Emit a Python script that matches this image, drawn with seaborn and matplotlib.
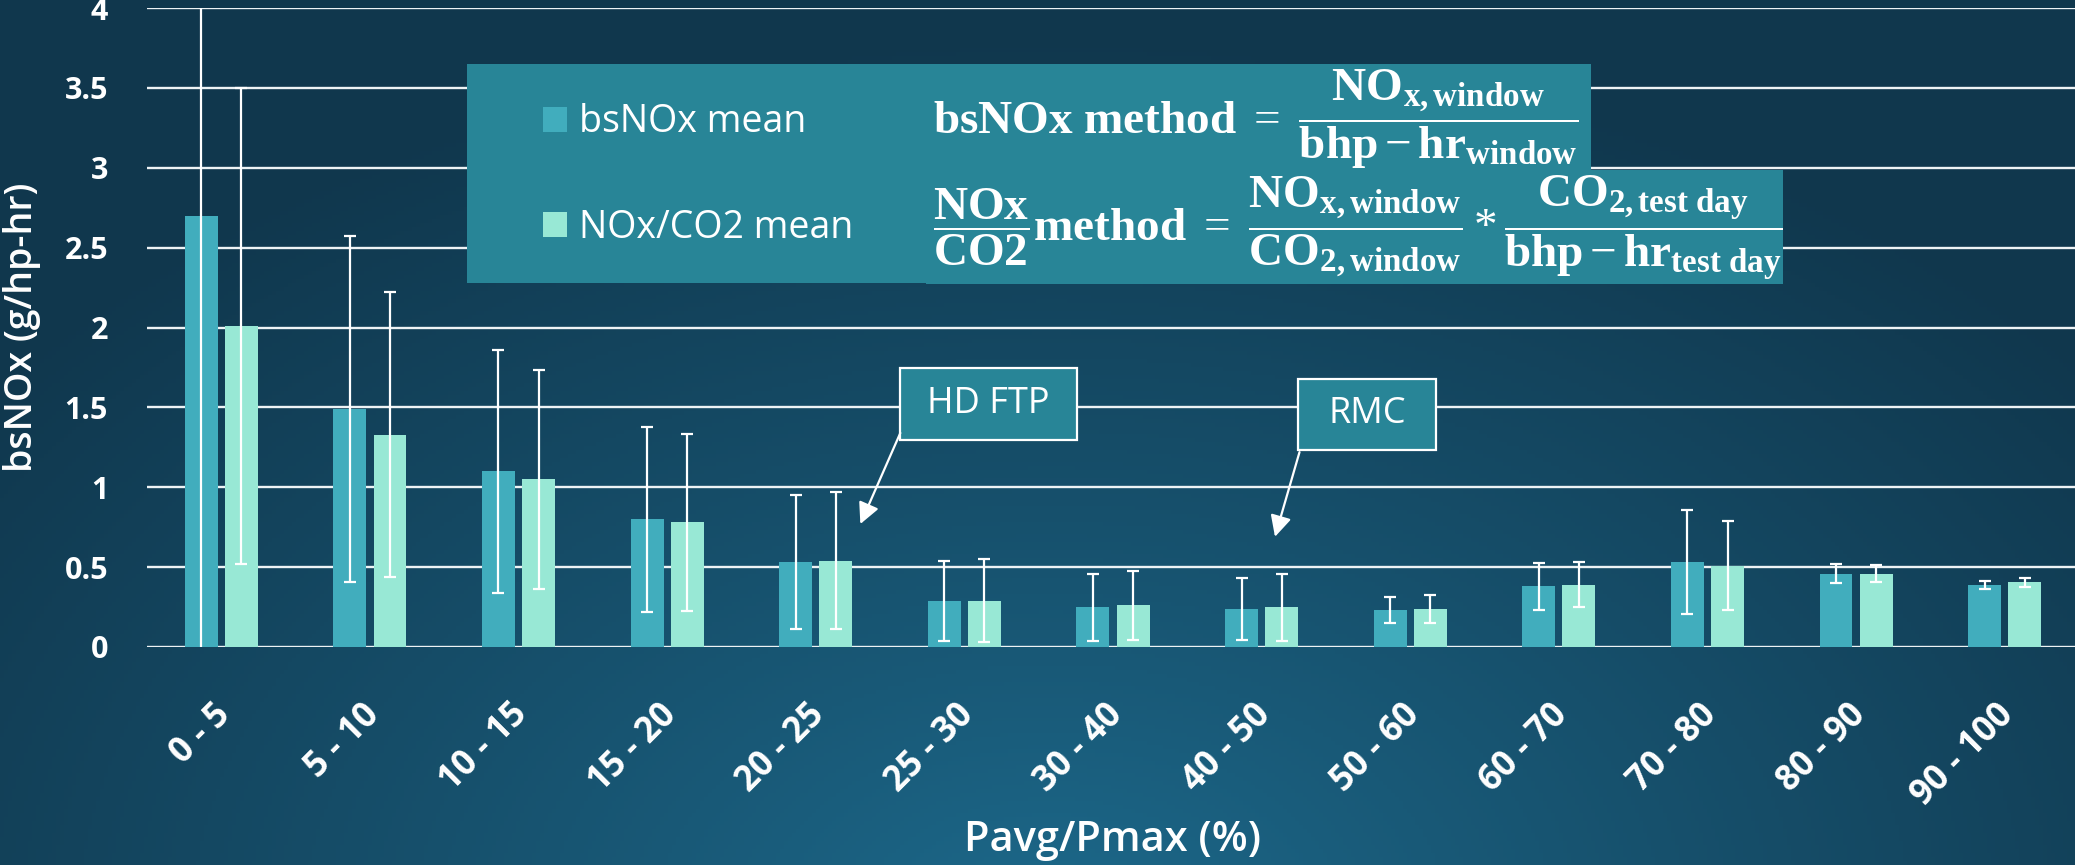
import numpy as np
import pandas as pd
import matplotlib
matplotlib.use('Agg')
import matplotlib.pyplot as plt
import matplotlib.transforms as mtransforms
import seaborn as sns
from matplotlib.patches import Rectangle

# Data
categories = ['0 - 5', '5 - 10', '10 - 15', '15 - 20', '20 - 25', '25 - 30', '30 - 40',
              '40 - 50', '50 - 60', '60 - 70', '70 - 80', '80 - 90', '90 - 100']
series = ['bsNOx mean', 'NOx/CO2 mean']
bsnox_mean = [2.70, 1.49, 1.10, 0.80, 0.53, 0.29, 0.25, 0.24, 0.23, 0.38, 0.53, 0.46, 0.39]
bsnox_err = [2.90, 1.08, 0.76, 0.58, 0.42, 0.25, 0.21, 0.195, 0.08, 0.146, 0.325, 0.06, 0.025]
ratio_mean = [2.01, 1.33, 1.05, 0.78, 0.54, 0.29, 0.26, 0.25, 0.24, 0.39, 0.51, 0.46, 0.405]
ratio_err = [1.49, 0.89, 0.685, 0.555, 0.43, 0.26, 0.215, 0.21, 0.088, 0.142, 0.276, 0.055, 0.029]
yticks = [0, 0.5, 1, 1.5, 2, 2.5, 3, 3.5, 4]

BAR_COLORS = ['#41adbd', '#98e8d5']
BOX_COLOR = '#288597'
W, H = 2075, 865

sns.set_style('dark')
plt.rcParams['font.family'] = ['Open Sans', 'DejaVu Sans']
plt.rcParams['mathtext.fontset'] = 'custom'
plt.rcParams['mathtext.rm'] = 'Liberation Serif'
plt.rcParams['mathtext.bf'] = 'Liberation Serif:bold'
plt.rcParams['mathtext.it'] = 'Liberation Serif:italic'

fig = plt.figure(figsize=(W / 100, H / 100), dpi=100)

# background gradient
bg = fig.add_axes([0, 0, 1, 1], zorder=-10)
yy, xx = np.mgrid[0:H:4, 0:W:4]
d = np.clip(np.hypot(xx - 1050, (yy - 930) * 1.5) / 1350, 0, 1) ** 0.9
light = np.array([0x1d, 0x6a, 0x8c]) / 255
dark = np.array([0x10, 0x37, 0x4d]) / 255
img = light[None, None, :] * (1 - d[..., None]) + dark[None, None, :] * d[..., None]
bg.imshow(img, aspect='auto', extent=[0, 1, 0, 1], origin='upper')
bg.axis('off')

ax = fig.add_axes([147 / W, 1 - 647 / H, 1932 / W, 639 / H])
ax.set_facecolor('none')

df = pd.DataFrame({
    'range': categories * 2,
    'value': bsnox_mean + ratio_mean,
    'series': [series[0]] * len(categories) + [series[1]] * len(categories),
})
sns.barplot(data=df, x='range', y='value', hue='series', palette=BAR_COLORS,
            width=0.54, gap=0.18, errorbar=None, saturation=1, linewidth=0,
            ax=ax, zorder=2)

for cont, errs in zip(ax.containers, [bsnox_err, ratio_err]):
    xs = [b.get_x() + b.get_width() / 2 for b in cont]
    ys = [b.get_height() for b in cont]
    ax.errorbar(xs, ys, yerr=errs, fmt='none', ecolor='white', elinewidth=1.6,
                capsize=4, capthick=1.6, zorder=3)

ax.set_xlim(-0.5, 12.5)
ax.set_ylim(0, 4)
ax.set_yticks(yticks)
ax.set_yticklabels([f'{v:g}' for v in yticks], fontsize=22, fontweight='bold', color='white')
ax.yaxis.grid(True, color='#eef3f5', lw=1.7)
ax.xaxis.grid(False)
ax.set_axisbelow(True)
for s in ax.spines.values():
    s.set_visible(False)
ax.tick_params(axis='both', length=0)
ax.tick_params(axis='y', pad=28)
ax.tick_params(axis='x', pad=45)
ax.set_xticks(range(len(categories)))
ax.set_xticklabels(categories, rotation=45, ha='right', va='center', rotation_mode='anchor',
                   fontsize=25, fontweight='bold', color='white')
offset = mtransforms.ScaledTranslation(4 / 100, 0, fig.dpi_scale_trans)
for lbl in ax.get_xticklabels():
    lbl.set_transform(lbl.get_transform() + offset)

ax.set_ylabel('bsNOx (g/hp-hr)', fontsize=27, fontweight='semibold', color='white')
ax.yaxis.set_label_coords(-0.0647, 0.5)
ax.yaxis.label.set_va('center')
ax.set_xlabel('Pavg/Pmax (%)', fontsize=30, fontweight='semibold', color='white')
ax.xaxis.set_label_coords(0.5, -0.302)
ax.xaxis.label.set_va('center')

# legend + formula panel
handles, labels = ax.get_legend_handles_labels()
ax.get_legend().remove()
for x0, y0, x1, y1 in [(467, 64, 926, 283), (926, 64, 1591, 170), (926, 170, 1783, 284)]:
    fig.add_artist(Rectangle((x0 / W, 1 - y1 / H), (x1 - x0) / W, (y1 - y0) / H,
                             transform=fig.transFigure, facecolor=BOX_COLOR,
                             edgecolor='none', zorder=2))
fig.legend(handles, labels, loc='center left', bbox_to_anchor=(543 / W, 1 - 175 / H),
           bbox_transform=fig.transFigure, frameon=False, fontsize=27,
           handlelength=0.65, handleheight=0.65, handletextpad=0.3,
           labelspacing=1.8, labelcolor='white', borderpad=0, borderaxespad=0)

f1 = (r'$\mathbf{bsNOx\ method}\ =\ \dfrac{\mathbf{NO}_{\mathbf{x,window}}}'
      r'{\mathbf{bhp} - \mathbf{hr}_{\mathbf{window}}}$')
f2 = (r'$\dfrac{\mathbf{NOx}}{\mathbf{CO2}}\mathbf{method}\ =\ '
      r'\dfrac{\mathbf{NO}_{\mathbf{x,window}}}{\mathbf{CO}_{\mathbf{2,window}}}*'
      r'\dfrac{\mathbf{CO}_{\mathbf{2,test\ day}}}{\mathbf{bhp} - \mathbf{hr}_{\mathbf{test\ day}}}$')
fig.text(933 / W, 1 - 119 / H, f1, fontsize=34, color='white', va='center', ha='left', zorder=3)
fig.text(933 / W, 1 - 228 / H, f2, fontsize=34, color='white', va='center', ha='left', zorder=3)

# annotation boxes
for label, (x0, x1, y0, y1), start, tip in [
        ('HD FTP', (4.569, 5.757, 1.296, 1.746), (4.569, 1.34), (4.30, 0.77)),
        ('RMC', (7.248, 8.176, 1.233, 1.678), (7.255, 1.22), (7.09, 0.69))]:
    ax.add_patch(Rectangle((x0, y0), x1 - x0, y1 - y0, facecolor=BOX_COLOR,
                           edgecolor='white', lw=1.6, zorder=5))
    ax.text((x0 + x1) / 2, (y0 + y1) / 2, label, fontsize=26, color='white',
            ha='center', va='center', zorder=6)
    ax.annotate('', xy=tip, xytext=start,
                arrowprops=dict(arrowstyle='-|>', color='white', lw=1.6,
                                mutation_scale=32, shrinkA=0, shrinkB=0), zorder=6)

fig.savefig('out.png', dpi=100)
